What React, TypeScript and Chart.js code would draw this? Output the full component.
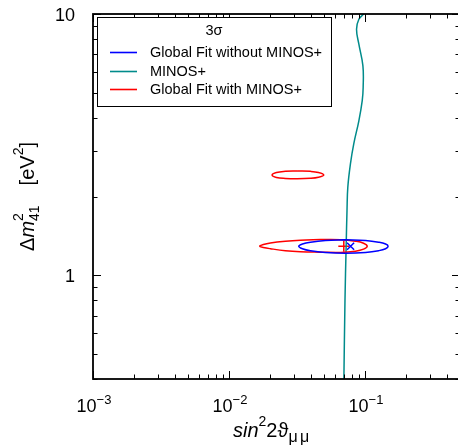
import React, { useEffect, useRef } from "react";
import { Chart, registerables } from "chart.js";

Chart.register(...registerables);

// Axis ranges
const X_MIN = 0.001;
const X_MAX = 0.5;
const Y_MIN = 0.4;
const Y_MAX = 10;

// Tick labels
const xMajorTicks = [0.001, 0.01, 0.1];
const xTickExponents = ["\u22123", "\u22122", "\u22121"];
const yMajorTicks = [1, 10];
const yTickLabels = ["1", "10"];

// Legend
const legendTitle = "3\u03c3";
const seriesNames = ["Global Fit without MINOS+", "MINOS+", "Global Fit with MINOS+"];
const seriesColors = ["#0000ff", "#008b8b", "#ff0000"];

// MINOS+ 3 sigma exclusion curve
const minosX = [0.098, 0.0902, 0.0867, 0.0902, 0.0966, 0.097, 0.0955, 0.0902, 0.0828, 0.0783, 0.0748, 0.0738, 0.0727, 0.0713, 0.07];
const minosY = [10, 9.55, 8.74, 7.66, 6.33, 5.23, 4.66, 3.9, 3.19, 2.68, 2.17, 1.77, 1.28, 0.8, 0.4];

// Global fit without MINOS+ (blue contour)
const blueX = [0.07194, 0.101, 0.126, 0.1418, 0.148, 0.1418, 0.126, 0.101, 0.07194, 0.05124, 0.03972, 0.03469, 0.03258, 0.03469, 0.03972, 0.05124, 0.07194];
const blueY = [1.366, 1.356, 1.336, 1.315, 1.29, 1.262, 1.24, 1.221, 1.213, 1.221, 1.24, 1.262, 1.29, 1.315, 1.336, 1.356, 1.366];

// Global fit with MINOS+ (red contours: main island and upper island)
const redX = [0.04709, 0.06611, 0.08526, 0.09765, 0.1039, 0.09765, 0.08526, 0.06611, 0.04709, 0.03353, 0.026, 0.02016, 0.0179, 0.01681, 0.0179, 0.02016, 0.026, 0.03353, 0.04709];
const redY = [1.368, 1.366, 1.348, 1.325, 1.29, 1.257, 1.235, 1.221, 1.224, 1.229, 1.24, 1.262, 1.276, 1.29, 1.31, 1.328, 1.348, 1.36, 1.368];
const redUpX = [0.03184, 0.0397, 0.0455, 0.0498, 0.0455, 0.0397, 0.03184, 0.026, 0.02234, 0.02075, 0.02234, 0.026, 0.03184];
const redUpY = [2.505, 2.497, 2.472, 2.419, 2.371, 2.348, 2.339, 2.345, 2.366, 2.419, 2.472, 2.497, 2.505];

// Best fit points
const blueBestX = [0.0784];
const blueBestY = [1.29];
const redBestX = [0.0699];
const redBestY = [1.29];

const FONT = '"Liberation Sans", Arial, Helvetica, sans-serif';

const pts = (xs: number[], ys: number[]) => xs.map((x, i) => ({ x, y: ys[i] }));

type Seg = { t: string; size: number; italic?: boolean; dy?: number; noAdvance?: boolean; pad?: number; step?: number };

function fontOf(s: Seg) {
  return `${s.italic ? "italic " : ""}${s.size}px ${FONT}`;
}
function segAdvance(ctx: CanvasRenderingContext2D, s: Seg) {
  if (s.noAdvance) return 0;
  if (s.pad !== undefined) return s.pad;
  ctx.font = fontOf(s);
  if (s.step) return s.step * s.t.length;
  return ctx.measureText(s.t).width;
}
function drawSegs(ctx: CanvasRenderingContext2D, segs: Seg[], x0: number, y0: number) {
  let x = x0;
  ctx.textAlign = "left";
  ctx.textBaseline = "alphabetic";
  for (const s of segs) {
    if (s.pad !== undefined) {
      x += s.pad;
      continue;
    }
    ctx.font = fontOf(s);
    if (s.step) {
      for (let i = 0; i < s.t.length; i++) ctx.fillText(s.t[i], x + i * s.step, y0 + (s.dy || 0));
    } else {
      ctx.fillText(s.t, x, y0 + (s.dy || 0));
    }
    x += segAdvance(ctx, s);
  }
}
function totalWidth(ctx: CanvasRenderingContext2D, segs: Seg[]) {
  return segs.reduce((w, s) => w + segAdvance(ctx, s), 0);
}

const framePlugin = {
  id: "frameAndText",
  afterDatasetsDraw(chart: any) {
    const { ctx, chartArea: a, scales } = chart;
    const xs = scales.x;
    const ys = scales.y;
    ctx.save();
    ctx.fillStyle = "#000";
    ctx.strokeStyle = "#000";

    // frame
    ctx.lineWidth = 1.8;
    ctx.strokeRect(a.left, a.top, a.right - a.left, a.bottom - a.top);

    // ticks
    ctx.lineWidth = 1;
    const majorLen = 8;
    const minorLen = 4.5;
    for (let e = -3; e <= 0; e++) {
      for (let m = 1; m <= 9; m++) {
        const v = m * Math.pow(10, e);
        if (v < X_MIN || v > X_MAX) continue;
        const px = Math.round(xs.getPixelForValue(v)) + 0.5;
        const len = m === 1 ? majorLen : minorLen;
        ctx.beginPath();
        ctx.moveTo(px, a.bottom);
        ctx.lineTo(px, a.bottom - len);
        ctx.moveTo(px, a.top);
        ctx.lineTo(px, a.top + len);
        ctx.stroke();
      }
    }
    for (let e = -1; e <= 1; e++) {
      for (let m = 1; m <= 9; m++) {
        const v = m * Math.pow(10, e);
        if (v < Y_MIN || v > Y_MAX) continue;
        const py = Math.round(ys.getPixelForValue(v)) + 0.5;
        const len = m === 1 ? majorLen : minorLen;
        ctx.beginPath();
        ctx.moveTo(a.left, py);
        ctx.lineTo(a.left + len, py);
        ctx.moveTo(a.right, py);
        ctx.lineTo(a.right - len, py);
        ctx.stroke();
      }
    }

    // x tick labels
    xMajorTicks.forEach((v, i) => {
      const segs: Seg[] = [
        { t: "10", size: 18 },
        { t: xTickExponents[i], size: 13, dy: -8 },
      ];
      const w = totalWidth(ctx, segs);
      drawSegs(ctx, segs, xs.getPixelForValue(v) - w / 2 + 1, a.bottom + 32.5);
    });

    // y tick labels
    ctx.font = `18px ${FONT}`;
    ctx.textAlign = "right";
    ctx.textBaseline = "alphabetic";
    yMajorTicks.forEach((v, i) => {
      ctx.fillText(yTickLabels[i], 75, ys.getPixelForValue(v) + 6.8);
    });

    // x axis title
    const xTitle: Seg[] = [
      { t: "sin", size: 20, italic: true },
      { t: "2", size: 14, dy: -11 },
      { t: "2", size: 20 },
      { t: "\u03d1", size: 20 },
      { t: "\u03bc\u03bc", size: 16, dy: 5, step: 11.5 },
    ];
    const xw = totalWidth(ctx, xTitle);
    drawSegs(ctx, xTitle, 233, 437);

    // y axis title
    const yTitle: Seg[] = [
      { t: "\u0394", size: 20 },
      { t: "m", size: 20, italic: true },
      { t: "2", size: 14, dy: -11, noAdvance: true },
      { t: "41", size: 14, dy: 5 },
      { t: "", size: 20, pad: 20 },
      { t: "[eV", size: 20 },
      { t: "2", size: 14, dy: -11 },
      { t: "]", size: 20 },
    ];
    const yw = totalWidth(ctx, yTitle);
    ctx.save();
    ctx.translate(33.5, (a.top + a.bottom) / 2);
    ctx.rotate(-Math.PI / 2);
    drawSegs(ctx, yTitle, -yw / 2, 0);
    ctx.restore();

    // legend
    const lx = 97.5, ly = 17.5, lw = 234, lh = 89;
    ctx.fillStyle = "#fff";
    ctx.fillRect(lx, ly, lw, lh);
    ctx.strokeStyle = "#000";
    ctx.lineWidth = 1;
    ctx.strokeRect(lx, ly, lw, lh);
    ctx.fillStyle = "#000";
    ctx.font = `14.5px ${FONT}`;
    ctx.textAlign = "center";
    ctx.textBaseline = "middle";
    ctx.fillText(legendTitle, 214, 31);
    const rows = [52, 71, 89];
    ctx.textAlign = "left";
    seriesNames.forEach((name, i) => {
      ctx.strokeStyle = seriesColors[i];
      ctx.lineWidth = 1.6;
      ctx.beginPath();
      ctx.moveTo(110, rows[i] + 0.5);
      ctx.lineTo(137, rows[i] + 0.5);
      ctx.stroke();
      ctx.fillStyle = "#000";
      ctx.fillText(name, 150, rows[i] + 0.5);
    });

    ctx.restore();
  },
};

export default function App() {
  const ref = useRef<HTMLCanvasElement>(null);
  useEffect(() => {
    document.body.style.margin = "0";
    const lineDs = (label: string, data: any, color: string) => ({
      label,
      data,
      showLine: true,
      borderColor: color,
      backgroundColor: color,
      borderWidth: 1.5,
      pointRadius: 0,
      tension: 0.4,
      fill: false,
    });
    const chart = new Chart(ref.current!, {
      type: "scatter",
      data: {
        datasets: [
          lineDs(seriesNames[0], pts(blueX, blueY), seriesColors[0]),
          lineDs(seriesNames[2], pts(redX, redY), seriesColors[2]),
          lineDs(seriesNames[2] + " (island)", pts(redUpX, redUpY), seriesColors[2]),
          lineDs(seriesNames[1], pts(minosX, minosY), seriesColors[1]),
          {
            label: "best fit without MINOS+",
            data: pts(blueBestX, blueBestY),
            pointStyle: "crossRot",
            pointRadius: 5,
            borderColor: seriesColors[0],
            borderWidth: 1.5,
            showLine: false,
          },
          {
            label: "best fit with MINOS+",
            data: pts(redBestX, redBestY),
            pointStyle: "cross",
            pointRadius: 5.5,
            borderColor: seriesColors[2],
            borderWidth: 1.5,
            showLine: false,
          },
        ],
      },
      options: {
        responsive: false,
        maintainAspectRatio: false,
        animation: false,
        devicePixelRatio: 1,
        layout: { autoPadding: false, padding: { left: 93, top: 14, right: 2, bottom: 67 } },
        plugins: { legend: { display: false }, tooltip: { enabled: false } },
        scales: {
          x: { type: "logarithmic", min: X_MIN, max: X_MAX, display: false },
          y: { type: "logarithmic", min: Y_MIN, max: Y_MAX, display: false },
        },
      },
      plugins: [framePlugin],
    } as any);
    return () => chart.destroy();
  }, []);
  return (
    <div style={{ position: "absolute", left: 0, top: 0, width: 458, height: 446, overflow: "hidden", background: "#fff" }}>
      <canvas ref={ref} width={462} height={446} style={{ width: 462, height: 446, display: "block" }} />
    </div>
  );
}
